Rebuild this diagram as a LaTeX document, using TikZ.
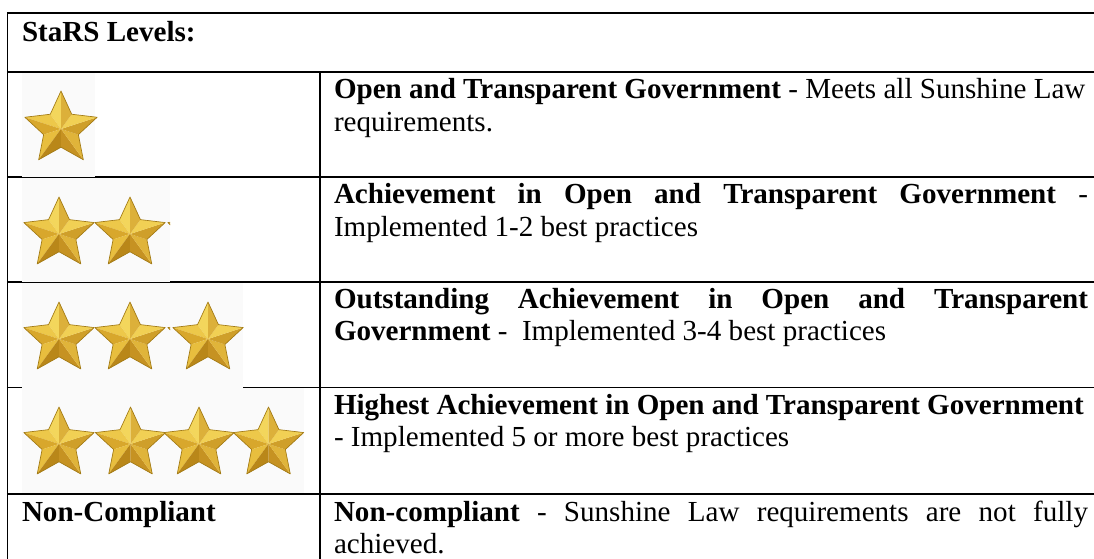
\documentclass[tikz,border=0pt]{standalone}
\usepackage{fontspec}
\setmainfont{Liberation Serif}
\newcommand\starfacet[4]{\fill[#4] (0,0) -- ({#3*cos(#1)},{-#3*sin(#1)}) -- ({0.48*#3*cos(#2)},{-0.48*#3*sin(#2)}) -- cycle;}
\definecolor{gA}{HTML}{F3D65C}
\definecolor{gB}{HTML}{EDC84A}
\definecolor{gC}{HTML}{D8A72C}
\definecolor{gD}{HTML}{E8BE3E}
\definecolor{gE}{HTML}{B98719}
\definecolor{gF}{HTML}{C69222}
\definecolor{gG}{HTML}{E0B43A}
\definecolor{gH}{HTML}{CF9F2A}
\definecolor{gI}{HTML}{F1D054}
\definecolor{gJ}{HTML}{DCB03A}
\definecolor{gEdge}{HTML}{A27A14}
\definecolor{imgbg}{HTML}{FAFAFA}
\tikzset{
  tline/.style={line width=1.4pt, black},
  imgbox/.style={fill=imgbg, draw=none},
  txt/.style={inner sep=0pt, outer sep=0pt, anchor=base west, font=\fontsize{21.8pt}{25pt}\selectfont},
  pics/goldstar/.style={code={
    \def\R{#1}
    \starfacet{90}{126}{\R}{gA}
    \starfacet{162}{126}{\R}{gB}
    \starfacet{162}{198}{\R}{gC}
    \starfacet{234}{198}{\R}{gD}
    \starfacet{234}{270}{\R}{gE}
    \starfacet{306}{270}{\R}{gF}
    \starfacet{306}{342}{\R}{gG}
    \starfacet{18}{342}{\R}{gH}
    \starfacet{18}{54}{\R}{gI}
    \starfacet{90}{54}{\R}{gJ}
    \draw[gEdge, line width=0.5pt, line join=round]
      (0,{-\R}) \foreach \k in {1,...,9} {
        -- ({(mod(\k,2)==0 ? \R : 0.48*\R)*cos(90+36*\k)},{-(mod(\k,2)==0 ? \R : 0.48*\R)*sin(90+36*\k)})
      } -- cycle;
  }},
  pics/goldstar/.default=37
}
\begin{document}
\begin{tikzpicture}[x=0.75pt, y=-0.75pt]
\useasboundingbox (0,0) rectangle (1094,559);
\clip (0,0) rectangle (1094,559);
% table rules
\coordinate (tl) at (7.5,13);
\draw[tline] (7.5,12.5) -- (7.5,570);
\draw[tline] (6.8,13) -- (1100,13);
\draw[tline] (6.8,72) -- (1100,72);
\draw[tline] (320,72) -- (320,570);
\draw[tline] (6.8,177) -- (1100,177);
\draw[tline] (6.8,282) -- (1100,282);
\draw[tline] (6.8,387.5) -- (1100,387.5);
\draw[tline] (6.8,494) -- (1100,494);
% image backgrounds
\fill[imgbox] (22,73) rectangle (95,177);
\fill[imgbox] (22,178) rectangle (170,282);
\fill[imgbox] (22,283) rectangle (243,388.6);
\fill[imgbox] (22,387.5) rectangle (304,493);
% stars
\pic (s11) at (61,129) {goldstar=38};
\pic (s21) at (59,234) {goldstar};
\pic (s22) at (130,234) {goldstar};
\begin{scope}
  \clip (165,150) rectangle (170,300);
  \pic (s23) at (203,234) {goldstar};
\end{scope}
\pic (s31) at (59,339) {goldstar};
\pic (s32) at (130,339) {goldstar};
\begin{scope}
  \clip (165,290) rectangle (170,380);
  \pic (s3x) at (203,339) {goldstar};
\end{scope}
\pic (s33) at (208,339) {goldstar};
\pic (s41) at (59,444) {goldstar};
\pic (s42) at (130.5,444) {goldstar};
\pic (s43) at (199,444) {goldstar};
\pic (s44) at (268.5,444) {goldstar};
% texts
\node[txt] (head) at (22,41.5) {\textbf{StaRS Levels:}};
\node[txt] (nc) at (22,521.5) {\textbf{Non-Compliant}};
\node[txt] (r1a) at (334,98.7) {\textbf{Open and Transparent Government} - Meets all Sunshine Law};
\node[txt] (r1b) at (334,131.3) {requirements.};
\node[txt] (r2a) at (334,203.7) {\makebox[565.5pt][s]{\textbf{Achievement in Open and Transparent Government} -}};
\node[txt] (r2b) at (334,236.5) {Implemented 1-2 best practices};
\node[txt] (r3a) at (334,308.5) {\makebox[565.5pt][s]{\textbf{Outstanding Achievement in Open and Transparent}}};
\node[txt] (r3b) at (334,340.5) {\textbf{Government} -\ \ Implemented 3-4 best practices};
\node[txt] (r4a) at (334,414) {\textbf{Highest Achievement in Open and Transparent Government}};
\node[txt] (r4b) at (334,446.5) {- Implemented 5 or more best practices};
\node[txt] (r5a) at (334,521.5) {\makebox[565.5pt][s]{\textbf{Non-compliant} - Sunshine Law requirements are not fully}};
\node[txt] (r5b) at (334,553) {achieved.};
\end{tikzpicture}
\end{document}
